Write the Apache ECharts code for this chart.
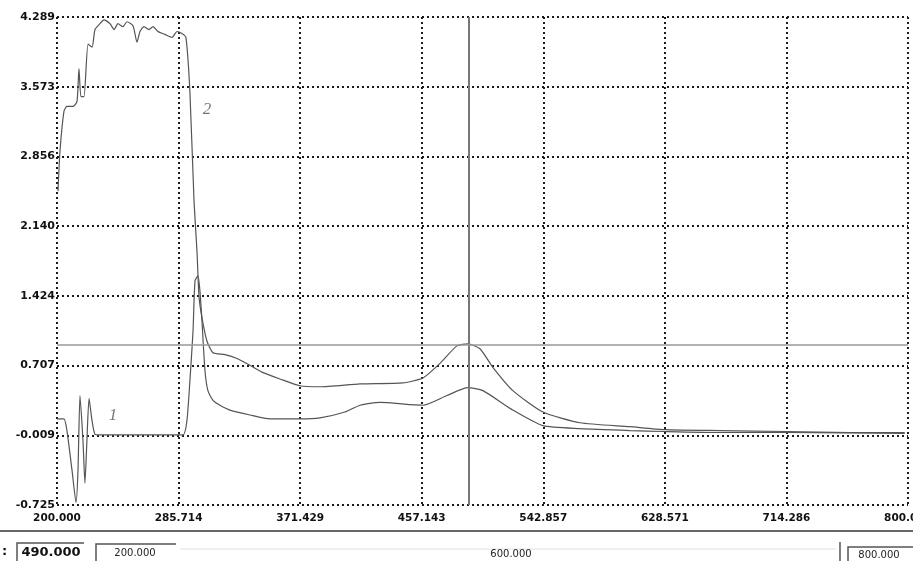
<!DOCTYPE html>
<html>
<head>
<meta charset="utf-8">
<script src="https://cdn.jsdelivr.net/npm/echarts@6/dist/echarts.min.js"></script>
<style>
  html, body { margin: 0; padding: 0; background: #fff; }
  #main { width: 913px; height: 561px; }
</style>
</head>
<body>
<div id="main"></div>
<script>
// tick labels (7 equal steps on both axes)
var xTickLabels = ['200.000', '285.714', '371.429', '457.143', '542.857', '628.571', '714.286', '800.000']
var yTickLabels = ['-0.725', '-0.009', '0.707', '1.424', '2.140', '2.856', '3.573', '4.289']
var xMin = 200, xMax = 800
var yMin = -0.725, yMax = 4.289

// curve 2 (upper)
var curve2Wl = [200.7, 202.1, 204.9, 207.0, 211.3, 214.1, 215.5, 216.9, 219.0, 221.9, 224.7, 226.8, 230.3, 233.1,
  237.4, 240.2, 243.0, 246.5, 249.3, 253.6, 256.4, 258.5, 261.3, 264.8, 267.7, 271.2, 276.1, 281.1, 284.6,
  288.1, 290.9, 293.7, 296.6, 298.7, 300.1, 302.2, 305.7, 310.0, 318.4, 326.9, 336.0, 344.5, 357.2, 371.3,
  385.4, 413.6, 443.9, 458.0, 470.0, 482.0, 489.7, 498.2, 507.3, 521.4, 542.6, 568.7, 603.9, 628.6, 667.3,
  714.6, 759.0, 797.7]
var curve2Abs = [2.50, 2.91, 3.32, 3.37, 3.37, 3.42, 3.76, 3.47, 3.47, 4.01, 3.98, 4.16, 4.22, 4.26,
  4.22, 4.16, 4.22, 4.19, 4.24, 4.20, 4.03, 4.14, 4.19, 4.16, 4.19, 4.14, 4.11, 4.08, 4.14,
  4.12, 4.08, 3.52, 2.40, 1.88, 1.42, 1.20, 0.96, 0.84, 0.82, 0.78, 0.71, 0.64, 0.57, 0.50,
  0.49, 0.52, 0.53, 0.58, 0.73, 0.91, 0.93, 0.88, 0.69, 0.45, 0.23, 0.12, 0.08, 0.05, 0.04,
  0.03, 0.02, 0.02]

// curve 1 (lower)
var curve1Wl = [200.0, 204.9, 207.0, 210.6, 213.4, 214.8, 216.2, 218.3, 219.7, 221.1, 222.6, 224.7, 226.8, 230.3,
  260.0, 288.8, 291.6, 293.7, 295.9, 297.3, 299.4, 300.8, 302.2, 304.3, 306.4, 310.0, 314.9, 322.0, 336.0,
  350.1, 371.3, 385.4, 403.0, 413.6, 427.7, 458.0, 474.9, 489.7, 500.3, 521.4, 542.6, 568.7, 603.9, 628.6,
  667.3, 714.6, 797.7]
var curve1Abs = [0.16, 0.16, 0.04, -0.37, -0.70, -0.37, 0.40, -0.06, -0.50, -0.06, 0.37, 0.14, 0.00, -0.005,
  -0.005, -0.005, 0.14, 0.55, 1.06, 1.58, 1.63, 1.47, 1.17, 0.66, 0.45, 0.35, 0.30, 0.25, 0.20,
  0.16, 0.16, 0.17, 0.23, 0.30, 0.33, 0.30, 0.40, 0.48, 0.45, 0.25, 0.09, 0.06, 0.04, 0.03,
  0.02, 0.02, 0.01]

// cursor position
var cursorWl = 490
var cursorAbs = 0.92

// curve numbers written on the plot
var curveTags = ['1', '2']
var curveTagWl = [239.5, 305.7]
var curveTagAbs = [0.19, 3.34]

// status bar values
var statusLabels = ['490.000', '200.000', '600.000', '800.000']

function pairs(xs, ys) {
  return xs.map(function (x, i) { return [x, ys[i]] })
}

var gridStyle = { color: '#1a1a1a', width: 2, type: [2, 3] }
var labelFont = { fontFamily: 'DejaVu Sans', fontWeight: 'bold', color: '#111' }

var chart = echarts.init(document.getElementById('main'))

chart.setOption({
  animation: false,
  backgroundColor: '#fff',
  grid: { left: 57, right: 5, top: 17, bottom: 56, containLabel: false, outerBoundsMode: 'none' },
  xAxis: [
    {
      type: 'value', min: 0, max: 7, interval: 1,
      axisLine: { show: false }, axisTick: { show: false },
      splitLine: { show: true, lineStyle: gridStyle },
      axisLabel: Object.assign({
        fontSize: 10.5, margin: 8, hideOverlap: false,
        formatter: function (v) { return xTickLabels[v] }
      }, labelFont)
    },
    { type: 'value', min: xMin, max: xMax, show: false }
  ],
  yAxis: [
    {
      type: 'value', min: 0, max: 7, interval: 1,
      axisLine: { show: false }, axisTick: { show: false },
      splitLine: { show: true, lineStyle: gridStyle },
      axisLabel: Object.assign({
        fontSize: 11, margin: 2,
        formatter: function (v) { return yTickLabels[v] }
      }, labelFont)
    },
    { type: 'value', min: yMin, max: yMax, show: false }
  ],
  series: [
    {
      type: 'line', xAxisIndex: 1, yAxisIndex: 1,
      data: pairs(curve1Wl, curve1Abs),
      showSymbol: false, smooth: 0.2,
      lineStyle: { color: '#555', width: 1.2 }
    },
    {
      type: 'line', xAxisIndex: 1, yAxisIndex: 1,
      data: pairs(curve2Wl, curve2Abs),
      showSymbol: false, smooth: 0.2,
      lineStyle: { color: '#555', width: 1.2 },
      markLine: {
        silent: true, symbol: 'none', label: { show: false },
        data: [
          { xAxis: cursorWl, lineStyle: { color: '#777', width: 2, type: 'solid' } },
          { yAxis: cursorAbs, lineStyle: { color: '#999', width: 1.5, type: 'solid' } }
        ]
      }
    },
    {
      type: 'scatter', xAxisIndex: 1, yAxisIndex: 1,
      symbolSize: 0,
      itemStyle: { color: 'transparent' },
      data: curveTags.map(function (t, i) {
        return { name: t, value: [curveTagWl[i], curveTagAbs[i]] }
      }),
      label: {
        show: true, position: 'inside', formatter: '{b}',
        fontFamily: 'Liberation Serif', fontStyle: 'italic', fontSize: 17, color: '#555'
      }
    }
  ],
  graphic: [
    { type: 'line', shape: { x1: 0, y1: 531, x2: 913, y2: 531 }, style: { stroke: '#666', lineWidth: 2 } },
    { type: 'text', x: 2, y: 552, style: { text: ':', font: 'bold 13px DejaVu Sans', fill: '#111', verticalAlign: 'middle' } },
    // cursor field
    { type: 'polyline', shape: { points: [[17, 561], [17, 543], [84, 543]] }, style: { stroke: '#555', lineWidth: 1.5, fill: null } },
    { type: 'text', x: 51, y: 553, style: { text: statusLabels[0], font: 'bold 13px DejaVu Sans', fill: '#111', align: 'center', verticalAlign: 'middle' } },
    // start field
    { type: 'polyline', shape: { points: [[96, 561], [96, 544], [176, 544]] }, style: { stroke: '#555', lineWidth: 1.5, fill: null } },
    { type: 'text', x: 135, y: 553, style: { text: statusLabels[1], font: '10px DejaVu Sans', fill: '#222', align: 'center', verticalAlign: 'middle' } },
    { type: 'line', shape: { x1: 180, y1: 549, x2: 836, y2: 549 }, style: { stroke: '#e2e2e2', lineWidth: 1 } },
    { type: 'text', x: 511, y: 554, style: { text: statusLabels[2], font: '10px DejaVu Sans', fill: '#222', align: 'center', verticalAlign: 'middle' } },
    // end field
    { type: 'line', shape: { x1: 840, y1: 542, x2: 840, y2: 561 }, style: { stroke: '#555', lineWidth: 1.5 } },
    { type: 'polyline', shape: { points: [[848, 561], [848, 547], [913, 547]] }, style: { stroke: '#555', lineWidth: 1.5, fill: null } },
    { type: 'text', x: 879, y: 555, style: { text: statusLabels[3], font: '10px DejaVu Sans', fill: '#222', align: 'center', verticalAlign: 'middle' } }
  ]
})
</script>
</body>
</html>
